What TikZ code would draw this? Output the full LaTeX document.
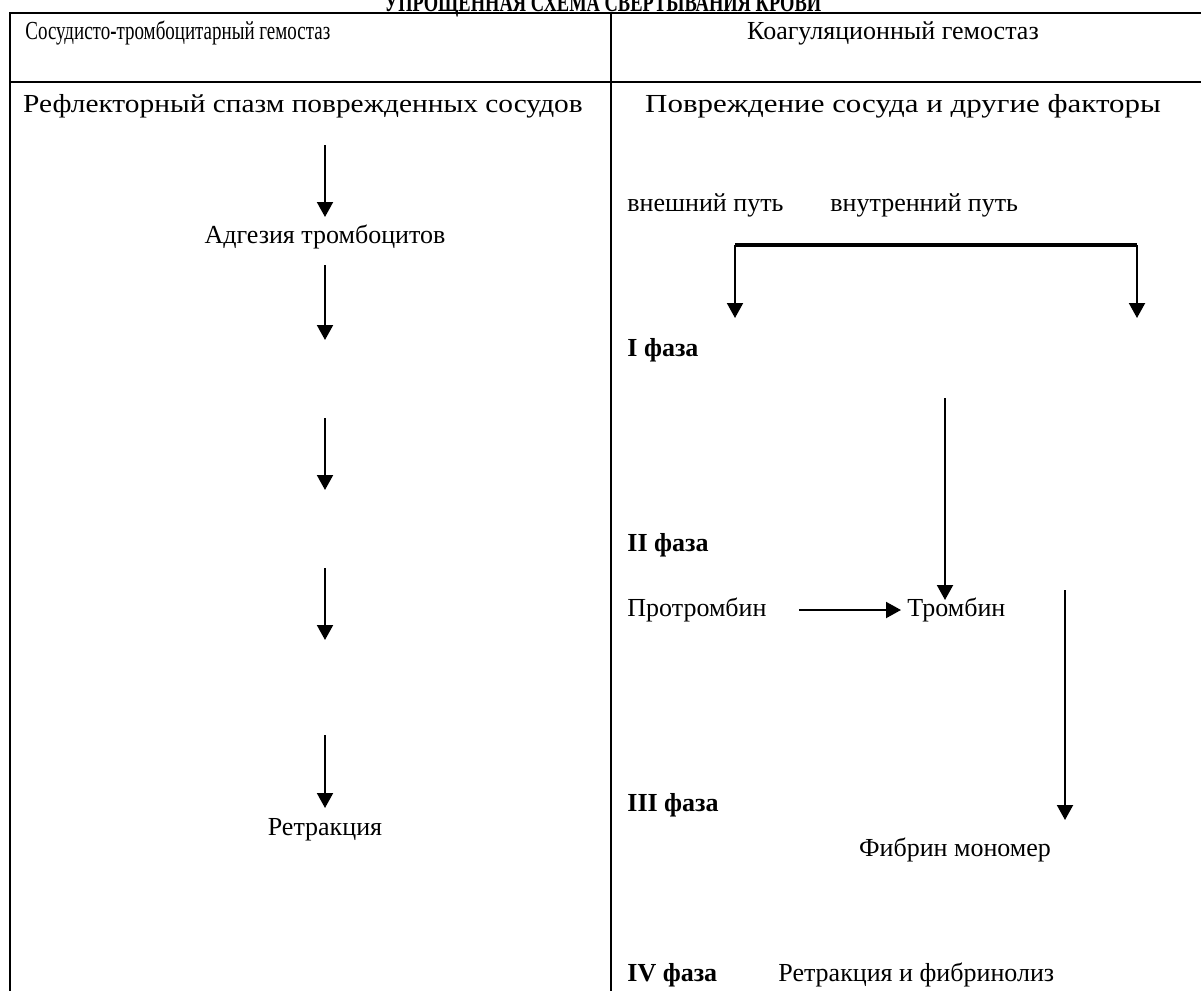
\documentclass[tikz,border=0pt]{standalone}
\usepackage{fontspec}
\setmainfont{Liberation Serif}
\usetikzlibrary{arrows.meta,positioning}

\tikzset{
  arr/.style={line width=1pt,-{Triangle[length=7.5pt,width=8pt]}},
  rule/.style={line width=1.4pt},
  txt/.style={inner sep=0pt},
  fase/.style={inner sep=0pt,anchor=west,font=\fontsize{13}{15}\selectfont\bfseries}
}

\begin{document}
\begin{tikzpicture}[x=0.5pt,y=-0.5pt,font=\fontsize{13}{15}\selectfont]
    \useasboundingbox (0,0) rectangle (1201,991);
    % title, cut at the top edge
    \node[txt,anchor=base,font=\fontsize{13}{15}\selectfont\bfseries] (title) at (603,11) {\scalebox{0.71}[1]{УПРОЩЕННАЯ СХЕМА СВЕРТЫВАНИЯ КРОВИ}};
    % table lines
    \draw[rule] (10,991) -- (10,13) -- (1205,13);
    \draw[rule] (10,82) -- (1205,82);
    \draw[rule] (611,13) -- (611,991);
    % headers
    \node[txt,anchor=west] (vth) at (25,33) {\scalebox{0.73}[1]{Сосудисто\textbf{-}тромбоцитарный гемостаз}};
    \node[txt] (kg) at (893,33) {Коагуляционный гемостаз};
    \node[txt] (refl) at (303,106) {\scalebox{1.13}[1]{Рефлекторный спазм поврежденных сосудов}};
    \node[txt] (povr) at (903,106) {\scalebox{1.19}[1]{Повреждение сосуда и другие факторы}};
    % left column
    \node[txt] (adg) at (325,237) {Адгезия тромбоцитов};
    \node[txt] (retr) at (325,830) {Ретракция};
    \foreach \a/\b [count=\i] in {145/217,265/340,418/490,568/640,735/808}{
      \coordinate (l\i s) at (325,\a);
      \coordinate (l\i e) at (325,\b);
      \draw[arr] (l\i s) -- (l\i e);
    }
    % right column
    \node[txt,anchor=west] (ext) at (627,205) {внешний путь};
    \node[txt,anchor=west] (int) at (830,205) {внутренний путь};
    \coordinate (bl) at (735,245);
    \coordinate (br) at (1137,245);
    \coordinate (blt) at (735,318);
    \coordinate (brt) at (1137,318);
    \draw[line width=1.8pt] (bl) -- (br);
    \draw[arr] (bl) -- (blt);
    \draw[arr] (br) -- (brt);
    \node[fase] (f1) at (627,350) {I фаза};
    \coordinate (t1) at (945,398);
    \coordinate (t2) at (945,600);
    \draw[arr] (t1) -- (t2);
    \node[fase] (f2) at (627,545) {II фаза};
    \node[txt,anchor=west] (prot) at (627,610) {Протромбин};
    \node[txt,anchor=west] (thr) at (907,610) {Тромбин};
    \draw[arr] ([xshift=16pt]prot.east) -- ([xshift=-3pt]thr.west);
    \coordinate (m1) at (1065,590);
    \coordinate (m2) at (1065,820);
    \draw[arr] (m1) -- (m2);
    \node[fase] (f3) at (627,805) {III фаза};
    \node[txt] (fib) at (955,850) {Фибрин мономер};
    \node[fase] (f4) at (627,975) {IV фаза};
    \node[txt,anchor=west] (rf) at (778,975) {Ретракция и фибринолиз};
\end{tikzpicture}
\end{document}
